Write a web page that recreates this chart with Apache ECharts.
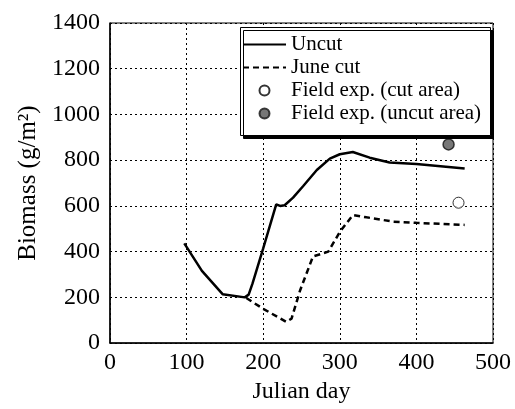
<!DOCTYPE html>
<html>
<head>
<meta charset="utf-8">
<script src="https://cdn.jsdelivr.net/npm/echarts@6/dist/echarts.min.js"></script>
<style>html,body{margin:0;padding:0;background:#fff}#c{width:515px;height:409px}</style>
</head>
<body>
<div id="c"></div>
<script>
// Data
const uncutDays = [97, 120, 147, 176, 181, 186, 200, 217, 222, 228, 239, 252, 270, 287, 300, 317, 339, 365, 400, 463];
const uncutVals = [436, 316, 214, 200, 212, 260, 414, 607, 600, 603, 636, 686, 757, 807, 826, 836, 811, 790, 783, 764];
const juneDays = [178, 200, 230, 237, 248, 265, 285, 300, 317, 335, 370, 400, 463];
const juneVals = [197, 150, 93, 107, 229, 379, 400, 486, 560, 550, 531, 526, 517];
const fieldCut = [[455, 614]];
const fieldUncut = [[442, 869]];
const xTicks = [0, 100, 200, 300, 400, 500];
const yTicks = [0, 200, 400, 600, 800, 1000, 1200, 1400];
const seriesNames = ['Uncut', 'June cut', 'Field exp. (cut area)', 'Field exp. (uncut area)'];

const pair = (xs, ys) => xs.map((x, i) => [x, ys[i]]);
const FONT = 'Liberation Serif';

const chart = echarts.init(document.getElementById('c'), null, {renderer: 'canvas'});
chart.setOption({
  animation: false,
  backgroundColor: '#fff',
  grid: {left: 110, right: 22, top: 23, bottom: 59, show: true, borderColor: '#000', borderWidth: 1},
  xAxis: {
    type: 'value', min: xTicks[0], max: xTicks[xTicks.length - 1], interval: 100,
    name: 'Julian day', nameLocation: 'middle', nameGap: 33,
    nameTextStyle: {fontFamily: FONT, fontSize: 24, color: '#000'},
    axisLine: {show: true, lineStyle: {color: '#000', width: 1.5}},
    axisTick: {show: false},
    axisLabel: {fontFamily: FONT, fontSize: 24, color: '#000', margin: 8, formatter: v => String(v)},
    splitLine: {show: true, lineStyle: {color: '#000', type: [2, 3], width: 1}}
  },
  yAxis: {
    type: 'value', min: yTicks[0], max: yTicks[yTicks.length - 1], interval: 200,
    name: 'Biomass (g/m²)', nameLocation: 'middle', nameGap: 68,
    nameTextStyle: {fontFamily: FONT, fontSize: 25, color: '#000'},
    axisLine: {show: true, lineStyle: {color: '#000', width: 1.5}},
    axisTick: {show: false},
    axisLabel: {fontFamily: FONT, fontSize: 24, color: '#000', margin: 10, formatter: v => String(v)},
    splitLine: {show: true, lineStyle: {color: '#000', type: [2, 3], width: 1}}
  },
  graphic: [{
    type: 'rect', z: 3, left: 240, top: 27,
    shape: {width: 250, height: 108},
    style: {fill: '#fff', stroke: '#000', lineWidth: 1, shadowColor: '#000', shadowOffsetX: 3, shadowOffsetY: 3, shadowBlur: 0}
  }],
  legend: {
    z: 5, orient: 'vertical', left: 242, top: 34, padding: 0,
    itemWidth: 43, itemHeight: 10, itemGap: 2,
    textStyle: {fontFamily: FONT, fontSize: 21, color: '#000', lineHeight: 21},
    data: [
      {name: seriesNames[0], itemStyle: {opacity: 0}},
      {name: seriesNames[1], itemStyle: {opacity: 0}},
      {name: seriesNames[2]},
      {name: seriesNames[3]}
    ]
  },
  series: [
    {name: seriesNames[0], type: 'line', data: pair(uncutDays, uncutVals), symbol: 'none',
     lineStyle: {color: '#000', width: 2.5}, itemStyle: {color: '#000'}},
    {name: seriesNames[1], type: 'line', data: pair(juneDays, juneVals), symbol: 'none',
     lineStyle: {color: '#000', width: 2.5, type: [6, 4]}, itemStyle: {color: '#000'}},
    {name: seriesNames[2], type: 'scatter', data: fieldCut, symbol: 'circle', symbolSize: 11,
     itemStyle: {color: '#fff', borderColor: '#000', borderWidth: 1}},
    {name: seriesNames[3], type: 'scatter', data: fieldUncut, symbol: 'circle', symbolSize: 11,
     itemStyle: {color: '#555', borderColor: '#111', borderWidth: 1.5}}
  ]
});
</script>
</body>
</html>
